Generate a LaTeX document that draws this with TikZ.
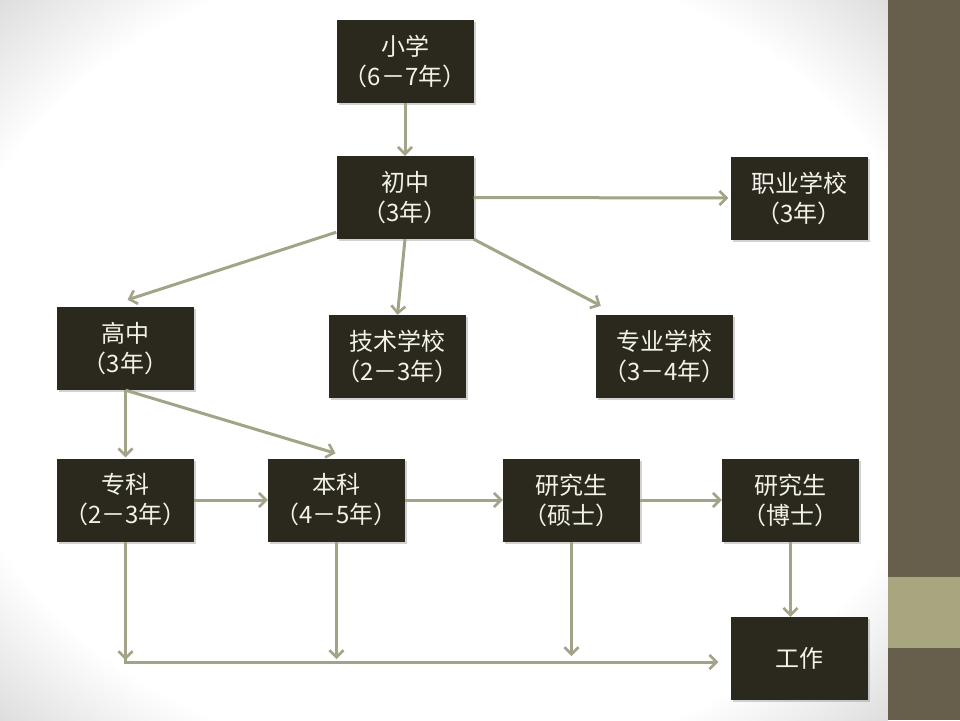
\documentclass[tikz,border=0pt]{standalone}
\usepackage{fontspec}
\setmainfont{Noto Sans CJK SC}
\usetikzlibrary{arrows.meta,calc,shadows}
\definecolor{boxfill}{HTML}{2B291E}
\definecolor{arrowc}{HTML}{A3A387}
\definecolor{stripdark}{HTML}{675F4B}
\definecolor{striplight}{HTML}{A8A67E}
\definecolor{textc}{HTML}{F2F1EA}
\pgfdeclareradialshading{bgshade}{\pgfpoint{0bp}{0bp}}{color(0bp)=(white); color(28bp)=(white); color(37bp)=(black!16); color(50bp)=(black!16)}
\tikzset{
  stage/.style={fill=boxfill, text=textc, minimum width=137pt, minimum height=83pt,
    inner sep=0pt, align=center, font=\fontsize{24}{30}\selectfont,
    drop shadow={opacity=0.35, shadow xshift=2pt, shadow yshift=-2pt}},
  flow/.style={draw=arrowc, line width=3pt, -{Straight Barb[length=7pt,width=14pt,line width=2.6pt]}},
  plain/.style={draw=arrowc, line width=3pt}
}
\begin{document}
\begin{tikzpicture}[x=1pt,y=-1pt]
\useasboundingbox (0,0) rectangle (960,720);
\shade[shading=bgshade] (0,0) rectangle (888,720);
\fill[stripdark] (888,0) rectangle (960,720);
\fill[striplight] (888,577) rectangle (960,648);

\node[stage] (xx) at (405,61.5) {小学\\（6－7年）};
\node[stage] (cz) at (405,197.5) {初中\\（3年）};
\node[stage] (zy) at (799,198) {职业学校\\（3年）};
\node[stage] (gz) at (125.5,348.5) {高中\\（3年）};
\node[stage] (js) at (397.5,356.5) {技术学校\\（2－3年）};
\node[stage] (zyx) at (664.5,356.5) {专业学校\\（3－4年）};
\node[stage] (zk) at (125.5,500) {专科\\（2－3年）};
\node[stage] (bk) at (336.5,500) {本科\\（4－5年）};
\node[stage] (ss) at (571.5,500) {研究生\\（硕士）};
\node[stage] (bs) at (790.5,500) {研究生\\（博士）};
\node[stage] (gzuo) at (799,658.5) {工作};

\coordinate (bus) at (0,662);
\coordinate (czL) at ($(cz.south west)+(0,-7)$);
\coordinate (gzT) at ($(gz.north)+(2,-7)$);
\coordinate (zyxT) at ($(zyx.north west)+(5,-9)$);
\coordinate (bkT) at ($(bk.north)+(-1,-5)$);
\coordinate (busEnd) at ($(gzuo.west |- bus)+(-14,0)$);

\draw[flow] (xx.south) -- (cz.north);
\draw[flow] (cz.east) -- ($(zy.west)+(-2,0)$);
\draw[flow] (czL) -- (gzT);
\draw[flow] (cz.south) -- (js.north);
\draw[flow] (cz.south east) -- (zyxT);
\draw[flow] (gz.south) -- ($(zk.north)+(0,-1)$);
\draw[flow] (gz.south) -- (bkT);
\draw[flow] (zk.east) -- (bk.west);
\draw[flow] (bk.east) -- (ss.west);
\draw[flow] (ss.east) -- (bs.west);
\draw[flow] (bs.south) -- (bs.south |- gzuo.north);
\draw[plain] (zk.south |- bus) -- (busEnd);
\draw[flow] (busEnd) -- ++(2,0);
\draw[flow] (zk.south) -- ($(zk.south |- bus)+(0,-2)$);
\draw[plain] ($(zk.south |- bus)+(0,-4)$) -- ($(zk.south |- bus)+(0,1.5)$);
\draw[flow] (bk.south) -- ($(bk.south |- bus)+(0,-3)$);
\draw[flow] (ss.south) -- ($(ss.south |- bus)+(0,-6)$);
\end{tikzpicture}
\end{document}
